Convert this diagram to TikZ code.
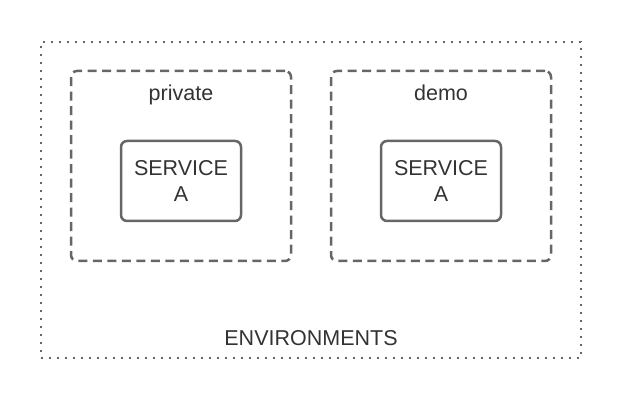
\documentclass[tikz,border=0pt]{standalone}
\usepackage{fontspec}
\setmainfont{Liberation Sans}
\usepackage{xcolor}
\usepackage{tikz}
\usetikzlibrary{positioning, backgrounds}

\definecolor{linegray}{HTML}{666666}
\definecolor{textgray}{HTML}{333333}

\begin{document}
\begin{tikzpicture}[x=1pt,y=1pt,
                    env box/.style={draw=linegray,line width=1.6pt,dash pattern=on 1.6pt off 6.4pt,minimum width=540pt,minimum height=316pt,inner sep=0pt},
                    group box/.style={draw=linegray,line width=2.5pt,dash pattern=on 9pt off 5.5pt,rounded corners=6pt,minimum width=220pt,minimum height=190pt,inner sep=0pt},
                    service box/.style={draw=linegray,line width=2.5pt,rounded corners=6pt,minimum width=120pt,minimum height=80pt,align=center,text=textgray,font=\fontsize{21.5}{26}\selectfont},
                    caption/.style={anchor=base,text=textgray,font=\fontsize{21.5}{26}\selectfont}]

  \useasboundingbox (0,0) rectangle (623,403);

  \node[env box] (env) at (311,203) {};
  \node[group box] (private) at (181,237) {};
  \node[group box] (demo) [right=37.5pt of private] {};

  \node[caption] (privlbl) at ([yshift=-31pt]private.north) {private};
  \node[caption] (demolbl) at ([yshift=-31pt]demo.north) {demo};

  \node[service box] (svc1) at ([yshift=-15pt]private.center) {SERVICE\\A};
  \node[service box] (svc2) at ([yshift=-15pt]demo.center) {SERVICE\\A};

  \node[caption] (envlbl) at ([yshift=13pt]env.south) {ENVIRONMENTS};

\end{tikzpicture}
\end{document}
